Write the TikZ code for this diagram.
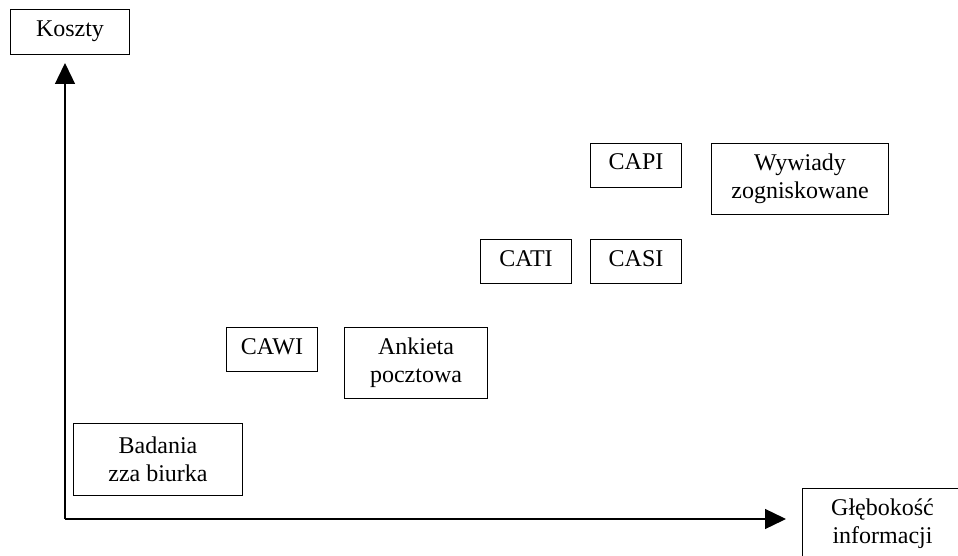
\documentclass[tikz,border=0pt]{standalone}
\usepackage{fontspec}
\setmainfont{Liberation Serif}
\usetikzlibrary{arrows.meta}
\tikzset{
  lbl/.style={draw=black, line width=1.5pt, fill=white, inner sep=0pt, align=center,
    font=\fontsize{24}{28}\selectfont},
  oneline/.style={text height=17pt, text depth=8pt},
  axis/.style={line width=1.3pt, -{Triangle[length=21pt,width=20pt]}}
}
\newcommand{\bx}[7]{% style, name, cx, cy, w, h, text
  \node[lbl, #1, minimum width=#5pt, minimum height=#6pt] (#2) at (#3,#4) {#7};}
\begin{document}
\begin{tikzpicture}[x=1pt,y=-1pt]
\clip (0,0) rectangle (958,556);
\fill[white] (0,0) rectangle (958,556);
\coordinate (origin) at (65,519);
\coordinate (ytip) at (65,63);
\coordinate (xtip) at (786,519);
\draw[axis] (origin) -- (ytip);
\draw[axis] (origin) -- (xtip);
\bx{oneline}{koszty}{70}{32}{119}{45}{Koszty}
\bx{}{badania}{158}{459.5}{169}{72}{Badania\\zza biurka}
\bx{oneline}{cawi}{272}{349.5}{91}{44}{CAWI}
\bx{}{ankieta}{416}{363}{143}{71}{Ankieta\\pocztowa}
\bx{oneline}{cati}{526}{261.5}{91}{44}{CATI}
\bx{oneline}{casi}{636}{261.5}{91}{44}{CASI}
\bx{oneline}{capi}{636}{165.5}{91}{44}{CAPI}
\bx{}{wywiady}{800}{179}{177}{71}{Wywiady\\zogniskowane}
\bx{}{glebokosc}{882.5}{524}{160}{71}{Głębokość\\informacji}
\end{tikzpicture}
\end{document}
